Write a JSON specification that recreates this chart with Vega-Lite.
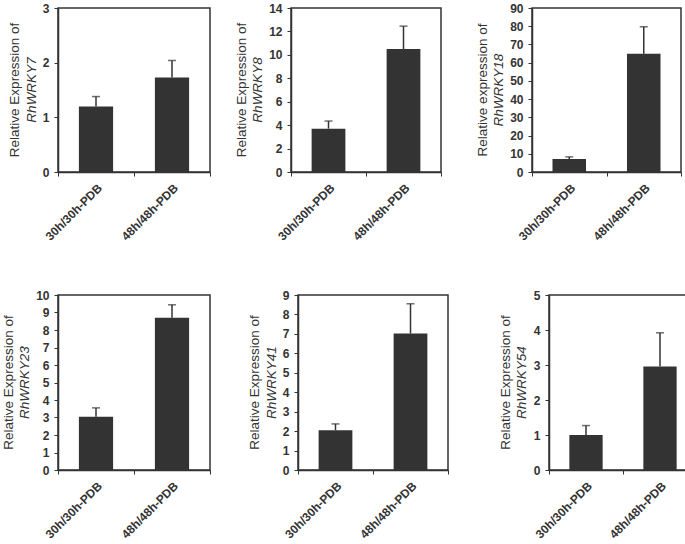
{
  "$schema": "https://vega.github.io/schema/vega-lite/v6.json",
  "padding": {"left": 0, "top": 1, "right": 0, "bottom": 0},
  "background": "white",
  "datasets": {
    "expr": [
      {"gene": "RhWRKY7", "group": "30h/30h-PDB", "mean": 1.2, "upper": 1.38},
      {"gene": "RhWRKY7", "group": "48h/48h-PDB", "mean": 1.73, "upper": 2.04},
      {"gene": "RhWRKY8", "group": "30h/30h-PDB", "mean": 3.7, "upper": 4.35},
      {"gene": "RhWRKY8", "group": "48h/48h-PDB", "mean": 10.5, "upper": 12.45},
      {"gene": "RhWRKY18", "group": "30h/30h-PDB", "mean": 7.2, "upper": 8.3},
      {"gene": "RhWRKY18", "group": "48h/48h-PDB", "mean": 64.9, "upper": 79.7},
      {"gene": "RhWRKY23", "group": "30h/30h-PDB", "mean": 3.05, "upper": 3.55},
      {"gene": "RhWRKY23", "group": "48h/48h-PDB", "mean": 8.7, "upper": 9.44},
      {"gene": "RhWRKY41", "group": "30h/30h-PDB", "mean": 2.05, "upper": 2.37},
      {"gene": "RhWRKY41", "group": "48h/48h-PDB", "mean": 7.02, "upper": 8.55},
      {"gene": "RhWRKY54", "group": "30h/30h-PDB", "mean": 1.0, "upper": 1.27},
      {"gene": "RhWRKY54", "group": "48h/48h-PDB", "mean": 2.96, "upper": 3.92}
    ]
  },
  "vconcat": [
    {
      "spacing": 31,
      "hconcat": [
        {
          "spacing": 21,
          "hconcat": [
            {
              "width": 152, "height": 164,
              "data": {"name": "expr"},
              "transform": [{"filter": "datum.gene === 'RhWRKY7'"}],
              "title": {"text": "Relative Expression of", "subtitle": "RhWRKY7"},
              "encoding": {
                "x": {"field": "group", "type": "nominal", "title": null, "scale": {"paddingInner": 0, "paddingOuter": 0}},
                "y": {"field": "mean", "type": "quantitative", "title": null, "scale": {"domain": [0, 3]}, "axis": {"values": [0, 1, 2, 3], "tickCount": 4, "labelOverlap": false, "format": "d"}}
              },
              "layer": [
                {"mark": {"type": "bar", "width": {"band": 0.45}, "color": "#333333"}},
                {"mark": {"type": "rule", "color": "#333333", "strokeWidth": 1.5}, "encoding": {"y2": {"field": "upper"}}},
                {"mark": {"type": "tick", "color": "#333333", "size": 8, "thickness": 1.5}, "encoding": {"y": {"field": "upper", "type": "quantitative", "title": null, "axis": {"values": [0, 1, 2, 3], "tickCount": 4, "labelOverlap": false, "format": "d"}}}}
              ]
            },
            {
              "width": 150, "height": 164,
              "data": {"name": "expr"},
              "transform": [{"filter": "datum.gene === 'RhWRKY8'"}],
              "title": {"text": "Relative Expression of", "subtitle": "RhWRKY8"},
              "encoding": {
                "x": {"field": "group", "type": "nominal", "title": null, "scale": {"paddingInner": 0, "paddingOuter": 0}},
                "y": {"field": "mean", "type": "quantitative", "title": null, "scale": {"domain": [0, 14]}, "axis": {"values": [0, 2, 4, 6, 8, 10, 12, 14], "tickCount": 8, "labelOverlap": false, "format": "d"}}
              },
              "layer": [
                {"mark": {"type": "bar", "width": {"band": 0.45}, "color": "#333333"}},
                {"mark": {"type": "rule", "color": "#333333", "strokeWidth": 1.5}, "encoding": {"y2": {"field": "upper"}}},
                {"mark": {"type": "tick", "color": "#333333", "size": 8, "thickness": 1.5}, "encoding": {"y": {"field": "upper", "type": "quantitative", "title": null, "axis": {"values": [0, 2, 4, 6, 8, 10, 12, 14], "tickCount": 8, "labelOverlap": false, "format": "d"}}}}
              ]
            }
          ]
        },
        {
          "width": 149, "height": 164,
          "data": {"name": "expr"},
          "transform": [{"filter": "datum.gene === 'RhWRKY18'"}],
          "title": {"text": "Relative expression of", "subtitle": "RhWRKY18"},
          "encoding": {
            "x": {"field": "group", "type": "nominal", "title": null, "scale": {"paddingInner": 0, "paddingOuter": 0}},
            "y": {"field": "mean", "type": "quantitative", "title": null, "scale": {"domain": [0, 90]}, "axis": {"values": [0, 10, 20, 30, 40, 50, 60, 70, 80, 90], "tickCount": 10, "labelOverlap": false, "format": "d"}}
          },
          "layer": [
            {"mark": {"type": "bar", "width": {"band": 0.45}, "color": "#333333"}},
            {"mark": {"type": "rule", "color": "#333333", "strokeWidth": 1.5}, "encoding": {"y2": {"field": "upper"}}},
            {"mark": {"type": "tick", "color": "#333333", "size": 8, "thickness": 1.5}, "encoding": {"y": {"field": "upper", "type": "quantitative", "title": null, "axis": {"values": [0, 10, 20, 30, 40, 50, 60, 70, 80, 90], "tickCount": 10, "labelOverlap": false, "format": "d"}}}}
          ]
        }
      ]
    },
    {
      "spacing": 48,
      "hconcat": [
        {
          "spacing": 35,
          "hconcat": [
            {
              "width": 152, "height": 175,
              "data": {"name": "expr"},
              "transform": [{"filter": "datum.gene === 'RhWRKY23'"}],
              "title": {"text": "Relative Expression of", "subtitle": "RhWRKY23"},
              "encoding": {
                "x": {"field": "group", "type": "nominal", "title": null, "scale": {"paddingInner": 0, "paddingOuter": 0}},
                "y": {"field": "mean", "type": "quantitative", "title": null, "scale": {"domain": [0, 10]}, "axis": {"values": [0, 1, 2, 3, 4, 5, 6, 7, 8, 9, 10], "tickCount": 11, "labelOverlap": false, "format": "d"}}
              },
              "layer": [
                {"mark": {"type": "bar", "width": {"band": 0.45}, "color": "#333333"}},
                {"mark": {"type": "rule", "color": "#333333", "strokeWidth": 1.5}, "encoding": {"y2": {"field": "upper"}}},
                {"mark": {"type": "tick", "color": "#333333", "size": 8, "thickness": 1.5}, "encoding": {"y": {"field": "upper", "type": "quantitative", "title": null, "axis": {"values": [0, 1, 2, 3, 4, 5, 6, 7, 8, 9, 10], "tickCount": 11, "labelOverlap": false, "format": "d"}}}}
              ]
            },
            {
              "width": 150, "height": 175,
              "data": {"name": "expr"},
              "transform": [{"filter": "datum.gene === 'RhWRKY41'"}],
              "title": {"text": "Relative Expression of", "subtitle": "RhWRKY41"},
              "encoding": {
                "x": {"field": "group", "type": "nominal", "title": null, "scale": {"paddingInner": 0, "paddingOuter": 0}},
                "y": {"field": "mean", "type": "quantitative", "title": null, "scale": {"domain": [0, 9]}, "axis": {"values": [0, 1, 2, 3, 4, 5, 6, 7, 8, 9], "tickCount": 10, "labelOverlap": false, "format": "d"}}
              },
              "layer": [
                {"mark": {"type": "bar", "width": {"band": 0.45}, "color": "#333333"}},
                {"mark": {"type": "rule", "color": "#333333", "strokeWidth": 1.5}, "encoding": {"y2": {"field": "upper"}}},
                {"mark": {"type": "tick", "color": "#333333", "size": 8, "thickness": 1.5}, "encoding": {"y": {"field": "upper", "type": "quantitative", "title": null, "axis": {"values": [0, 1, 2, 3, 4, 5, 6, 7, 8, 9], "tickCount": 10, "labelOverlap": false, "format": "d"}}}}
              ]
            }
          ]
        },
        {
          "width": 148, "height": 175,
          "data": {"name": "expr"},
          "transform": [{"filter": "datum.gene === 'RhWRKY54'"}],
          "title": {"text": "Relative Expression of", "subtitle": "RhWRKY54"},
          "encoding": {
            "x": {"field": "group", "type": "nominal", "title": null, "scale": {"paddingInner": 0, "paddingOuter": 0}},
            "y": {"field": "mean", "type": "quantitative", "title": null, "scale": {"domain": [0, 5]}, "axis": {"values": [0, 1, 2, 3, 4, 5], "tickCount": 6, "labelOverlap": false, "format": "d"}}
          },
          "layer": [
            {"mark": {"type": "bar", "width": {"band": 0.45}, "color": "#333333"}},
            {"mark": {"type": "rule", "color": "#333333", "strokeWidth": 1.5}, "encoding": {"y2": {"field": "upper"}}},
            {"mark": {"type": "tick", "color": "#333333", "size": 8, "thickness": 1.5}, "encoding": {"y": {"field": "upper", "type": "quantitative", "title": null, "axis": {"values": [0, 1, 2, 3, 4, 5], "tickCount": 6, "labelOverlap": false, "format": "d"}}}}
          ]
        }
      ]
    }
  ],
  "spacing": 45,
  "config": {
    "view": {"stroke": "#333333", "strokeWidth": 1.5},
    "font": "Liberation Sans",
    "axis": {
      "grid": false,
      "labelFont": "Liberation Sans",
      "labelFontSize": 12,
      "labelFontWeight": "bold",
      "labelColor": "#333333",
      "tickColor": "#333333",
      "domainColor": "#333333",
      "domainWidth": 1.5,
      "tickSize": 4,
      "labelPadding": 5,
      "labelOverlap": false,
      "labelBound": false,
      "labelFlush": false
    },
    "axisX": {"labelAngle": -45, "tickBand": "extent", "labelPadding": 6},
    "title": {
      "orient": "left",
      "anchor": "middle",
      "frame": "group",
      "font": "Liberation Sans",
      "fontSize": 13.5,
      "fontWeight": "normal",
      "color": "#333333",
      "subtitleFont": "Liberation Sans",
      "subtitleFontSize": 13.5,
      "subtitleFontStyle": "italic",
      "subtitleColor": "#333333",
      "subtitlePadding": 0,
      "offset": 0
    }
  }
}
